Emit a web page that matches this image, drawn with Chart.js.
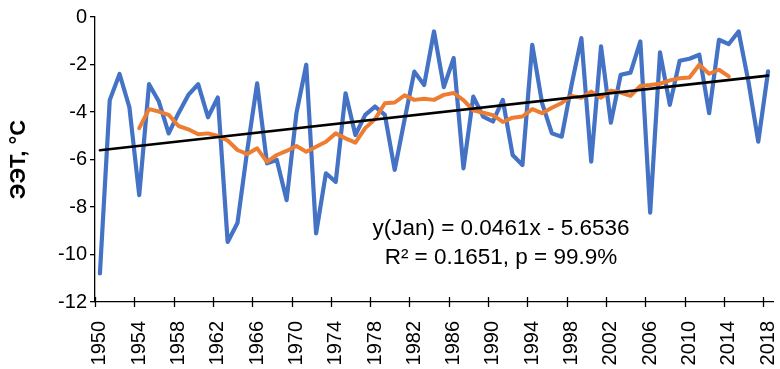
<!DOCTYPE html>
<html>
<head>
<meta charset="utf-8">
<script src="https://cdn.jsdelivr.net/npm/chart.js@4/dist/chart.umd.min.js"></script>
<style>
html,body{margin:0;padding:0;background:#fff;}
#wrap{width:780px;height:369px;}
</style>
</head>
<body>
<div id="wrap"><canvas id="c" width="780" height="369"></canvas></div>
<script>
const years = ['1950','1951','1952','1953','1954','1955','1956','1957','1958','1959',
'1960','1961','1962','1963','1964','1965','1966','1967','1968','1969',
'1970','1971','1972','1973','1974','1975','1976','1977','1978','1979',
'1980','1981','1982','1983','1984','1985','1986','1987','1988','1989',
'1990','1991','1992','1993','1994','1995','1996','1997','1998','1999',
'2000','2001','2002','2003','2004','2005','2006','2007','2008','2009',
'2010','2011','2012','2013','2014','2015','2016','2017','2018'];

const janValues = [-10.8,-3.5,-2.4,-3.8,-7.5,-2.83,-3.56,-4.9,-4.05,-3.28,
-2.83,-4.22,-3.39,-9.47,-8.67,-5.6,-2.79,-6.16,-6.02,-7.71,
-4.05,-2.01,-9.11,-6.58,-6.94,-3.21,-4.97,-4.12,-3.77,-4.12,
-6.44,-4.33,-2.3,-2.86,-0.61,-2.95,-1.73,-6.37,-3.35,-4.19,
-4.4,-3.49,-5.81,-6.23,-1.17,-3.63,-4.9,-5.04,-2.86,-0.89,
-6.09,-1.24,-4.45,-2.43,-2.34,-1.03,-8.24,-1.49,-3.7,-1.84,
-1.76,-1.59,-4.05,-0.96,-1.14,-0.61,-2.72,-5.25,-2.29];

const movingAvg = [null,null,null,null,-4.68,-3.88,-3.98,-4.12,-4.59,-4.73,
-4.94,-4.9,-5.01,-5.2,-5.6,-5.77,-5.53,-6.1,-5.81,-5.64,
-5.43,-5.67,-5.46,-5.25,-4.9,-5.11,-5.29,-4.68,-4.3,-3.63,
-3.6,-3.3,-3.49,-3.44,-3.49,-3.28,-3.2,-3.5,-3.93,-4.03,
-4.13,-4.42,-4.24,-4.19,-3.88,-4.05,-3.82,-3.62,-3.32,-3.4,
-3.14,-3.4,-3.1,-3.18,-3.32,-2.9,-2.86,-2.81,-2.67,-2.58,
-2.55,-2.01,-2.39,-2.22,-2.5,null,null,null,null];

const trendYears = ['1950','2018'];
const trendValues = [-5.61,-2.47];

const yTicks = [0,-2,-4,-6,-8,-10,-12];
const eqLines = ['y(Jan) = 0.0461x - 5.6536','R\u00B2 = 0.1651, p = 99.9%'];
const yTitle = '\u042D\u042D\u0422, \u00B0C';

const FONT = "'Liberation Sans', Arial, sans-serif";

const crossTicks = {
  id:'crossTicks',
  afterDraw(chart){
    const xs = chart.scales.x, ca = chart.chartArea, ctx = chart.ctx;
    const half = (xs.getPixelForValue(1) - xs.getPixelForValue(0))/2;
    ctx.save();
    ctx.strokeStyle = '#000'; ctx.lineWidth = 1.3;
    for (let i = 0; i < years.length; i += 4){
      const x = Math.round(xs.getPixelForValue(i) - half) + 0.5;
      ctx.beginPath(); ctx.moveTo(x, ca.bottom - 5); ctx.lineTo(x, ca.bottom + 5); ctx.stroke();
    }
    ctx.restore();
  }
};

const eqText = {
  id:'eqText',
  afterDraw(chart){
    const ctx = chart.ctx, xs = chart.scales.x, ys = chart.scales.y;
    ctx.save();
    ctx.font = '22.5px ' + FONT;
    ctx.fillStyle = '#000';
    ctx.textAlign = 'center';
    ctx.textBaseline = 'middle';
    const cx = xs.getPixelForValue(years.indexOf('1990')) + 8;
    ctx.fillText(eqLines[0], cx, ys.getPixelForValue(-8.9));
    ctx.fillText(eqLines[1], cx, ys.getPixelForValue(-10.15));
    ctx.restore();
  }
};

new Chart(document.getElementById('c'), {
  type:'line',
  data:{
    labels: years,
    datasets:[
      {label:'trend', data: trendYears.map((y,i)=>({x:y, y:trendValues[i]})), borderColor:'#000', borderWidth:2.6, pointRadius:0, tension:0, order:0},
      {label:'avg', data: movingAvg, borderColor:'#ED7D31', borderWidth:4, pointRadius:0, tension:0, order:1},
      {label:'Jan', data: janValues, borderColor:'#4472C4', borderWidth:4.2, pointRadius:0, tension:0, order:2}
    ]
  },
  options:{
    responsive:false,
    animation:false,
    devicePixelRatio:1,
    layout:{padding:{top:17,right:7,left:0,bottom:0}},
    plugins:{legend:{display:false},tooltip:{enabled:false}},
    elements:{line:{borderJoinStyle:'round',borderCapStyle:'round'}},
    scales:{
      x:{
        type:'category',
        offset:true,
        grid:{display:false, drawOnChartArea:false},
        border:{display:true,color:'#000',width:1.3},
        ticks:{
          autoSkip:false, maxRotation:90, minRotation:90,
          color:'#000', font:{family:FONT,size:20}, padding:11,
          callback:function(v,i){ return i % 4 === 0 ? years[i] : ''; }
        },
        afterFit:function(s){ s.height = 67; s.paddingLeft = 0; s.paddingRight = 0; }
      },
      y:{
        min:-12, max:0,
        afterBuildTicks:function(s){ s.ticks = yTicks.map(v=>({value:v})); },
        grid:{drawOnChartArea:false, drawTicks:true, tickLength:5, color:'#000', lineWidth:1.3},
        border:{display:true,color:'#000',width:1.3},
        ticks:{color:'#000', font:{family:FONT,size:20}, padding:3},
        title:{display:true, text:yTitle, color:'#000', font:{family:FONT,size:22,weight:'bold'}, padding:{top:6,bottom:0}},
        afterFit:function(s){ s.width = 95; s.paddingTop = 0; s.paddingBottom = 0; }
      }
    }
  },
  plugins:[crossTicks, eqText]
});
</script>
</body>
</html>
